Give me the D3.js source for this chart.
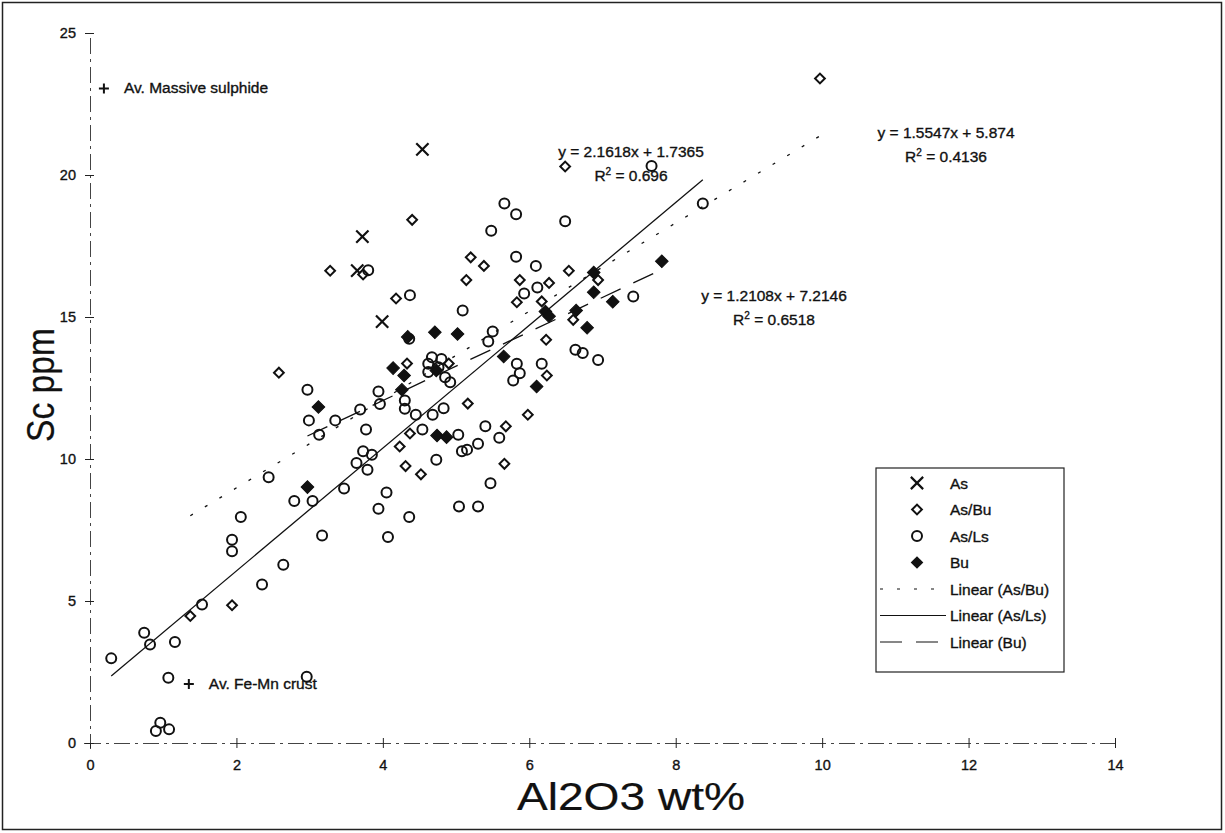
<!DOCTYPE html>
<html><head><meta charset="utf-8">
<script src="https://cdn.jsdelivr.net/npm/d3@7"></script>
<style>
html,body{margin:0;padding:0;background:#fff;}
text{font-family:"Liberation Sans",Arial,sans-serif;fill:#111;stroke:#111;stroke-width:0.35px;}
</style></head>
<body><svg id="chart" width="1225" height="833"></svg>
<script>
// ---- data ----
const seriesNames = ["As", "As/Bu", "As/Ls", "Bu"];
const asPts = [[4.54,20.9],[3.72,17.83],[3.65,16.63],[3.99,14.84]];
const asBuPts = [[9.97,23.4],[6.49,20.3],[4.40,18.42],[3.28,16.63],[3.73,16.5],[4.18,15.65],[5.2,17.1],[5.38,16.8],[5.14,16.3],[5.87,16.3],[5.83,15.52],[6.17,15.55],[4.33,13.36],[2.58,13.04],[4.9,13.36],[5.16,11.95],[4.23,10.44],[4.31,9.75],[4.52,9.46],[4.37,10.9],[6.27,16.2],[6.54,16.63],[6.94,16.3],[6.23,14.2],[6.6,14.9],[6.24,12.94],[5.98,11.56],[5.68,11.15],[5.66,9.83],[1.37,4.47],[1.94,4.85]];
const asLsPts = [[0.29,2.98],[0.74,3.88],[0.82,3.47],[1.16,3.56],[1.53,4.88],[1.07,2.3],[0.96,0.71],[0.9,0.42],[1.08,0.48],[2.96,2.33],[1.94,7.16],[1.94,6.75],[2.06,7.96],[2.35,5.58],[2.64,6.28],[2.79,8.52],[3.04,8.52],[3.17,7.31],
[2.97,12.44],[2.99,11.36],[3.35,11.36],[3.69,11.74],[3.13,10.85],[3.77,11.04],[3.94,12.38],[3.96,11.94],[4.3,12.06],[4.3,11.77],[4.45,11.56],[4.68,11.56],[4.54,11.04],[4.83,11.79],[3.73,10.27],[3.85,10.15],[3.64,9.86],[3.79,9.62],[3.47,8.96],[2.44,9.36],[4.05,8.82],[3.94,8.25],[4.07,7.25],[4.36,7.96],[4.73,9.97],[4.36,14.23],
[4.67,13.58],[4.8,13.52],[4.62,13.35],[4.76,13.23],[4.62,13.06],[4.85,12.88],[4.92,12.7],
[5.03,10.85],[5.4,11.15],[5.3,10.54],[5.59,10.75],[5.08,10.27],[5.15,10.33],[5.47,9.15],[5.04,8.33],[5.3,8.33],
[5.66,19.0],[5.82,18.62],[5.48,18.04],[5.82,17.12],[6.09,16.8],[6.11,16.04],[5.93,15.83],[6.49,18.37],[4.37,15.77],[5.09,15.23],[5.5,14.49],[5.44,14.14],[3.8,16.65],
[7.42,15.72],[6.63,13.85],[6.73,13.73],[6.94,13.49],[5.83,13.35],[6.17,13.35],[5.87,13.02],[5.78,12.76],[7.67,20.32],[8.37,19.0]];
const buPts = [[4.71,14.46],[4.14,13.2],[4.29,12.94],[4.26,12.44],[3.12,11.83],[2.97,9.01],[4.74,10.83],[4.87,10.77],[5.02,14.4],[5.65,13.61],[4.73,13.12],[6.1,12.55],[6.22,15.19],[6.27,15.03],[6.64,15.23],[6.79,14.62],[6.88,15.87],[6.88,16.57],[7.14,15.54],[7.81,16.96],[4.34,14.3]];
const refPts = [[0.19,23.05,"Av. Massive sulphide"],[1.35,2.08,"Av. Fe-Mn crust"]];
// trendlines: [slope, intercept, r2]
const trendAsBu = [1.5547, 5.874, "0.4136"];
const trendAsLs = [2.1618, 1.7365, "0.696"];
const trendBu = [1.2108, 7.2146, "0.6518"];
const xTicks = [0,2,4,6,8,10,12,14];
const yTicks = [0,5,10,15,20,25];
const legendLabels = ["As","As/Bu","As/Ls","Bu","Linear (As/Bu)","Linear (As/Ls)","Linear (Bu)"];

// ---- chart ----
const svg = d3.select("#chart");
const x = d3.scaleLinear().domain([0,14]).range([90,1115]);
const y = d3.scaleLinear().domain([0,25]).range([743,33]);

svg.append("rect").attr("x",2.5).attr("y",2.5).attr("width",1219).attr("height",827)
  .attr("fill","none").attr("stroke","#222").attr("stroke-width",1.5);

// axes
const gx = svg.append("g").attr("transform",`translate(0,${y(0)})`)
  .call(d3.axisBottom(x).tickValues(xTicks).tickSize(6).tickPadding(11));
gx.selectAll(".tick line").attr("y1",-5).attr("y2",5).attr("stroke","#222");
gx.select(".domain").attr("stroke","#444").attr("stroke-dasharray","16,5,3,5");
gx.selectAll("text").style("font-size","14.5px").attr("font-family","Liberation Sans, Arial");

const gy = svg.append("g").attr("transform",`translate(${x(0)},0)`)
  .call(d3.axisLeft(y).tickValues(yTicks).tickSize(6).tickPadding(8));
gy.selectAll(".tick line").attr("x1",4).attr("x2",-5).attr("stroke","#222");
gy.select(".domain").attr("stroke","#444").attr("stroke-dasharray","16,5,3,5");
gy.selectAll("text").style("font-size","14.5px").attr("font-family","Liberation Sans, Arial");

// axis titles
svg.append("text").attr("x",631).attr("y",810).attr("text-anchor","middle")
  .attr("textLength",228).attr("lengthAdjust","spacingAndGlyphs")
  .style("font-size","38px").style("stroke-width","0.2px").text("Al2O3 wt%");
svg.append("text").attr("transform","translate(54,385) rotate(-90)").attr("text-anchor","middle")
  .attr("textLength",114).attr("lengthAdjust","spacingAndGlyphs")
  .style("font-size","38px").style("stroke-width","0.2px").text("Sc ppm");

// trendlines
function trend(t, pts, dash, w){
  const ext = d3.extent(pts, d=>d[0]);
  svg.append("line").attr("x1",x(ext[0])).attr("y1",y(t[0]*ext[0]+t[1]))
    .attr("x2",x(ext[1])).attr("y2",y(t[0]*ext[1]+t[1]))
    .attr("stroke","#111").attr("stroke-width",w).attr("stroke-dasharray",dash);
}
trend(trendAsBu, asBuPts, "3,14", 1.3);
trend(trendAsLs, asLsPts, null, 1.3);
trend(trendBu, buPts, "22,14", 1.3);

// markers
const sqOpen = d3.symbol(d3.symbolSquare, 48);
const sqFill = d3.symbol(d3.symbolSquare, 80);
const times = d3.symbol(d3.symbolTimes, 100);
function drawSeries(pts, kind, g){
  const sel = g.selectAll(null).data(pts).enter();
  if(kind==="As") sel.append("path").attr("d",times).attr("transform",d=>`translate(${x(d[0])},${y(d[1])})`)
      .attr("fill","none").attr("stroke","#111").attr("stroke-width",2.2);
  if(kind==="As/Bu") sel.append("path").attr("d",sqOpen).attr("transform",d=>`translate(${x(d[0])},${y(d[1])}) rotate(45)`)
      .attr("fill","#fff").attr("stroke","#111").attr("stroke-width",2);
  if(kind==="As/Ls") sel.append("circle").attr("cx",d=>x(d[0])).attr("cy",d=>y(d[1])).attr("r",5)
      .attr("fill","none").attr("stroke","#111").attr("stroke-width",2);
  if(kind==="Bu") sel.append("path").attr("d",sqFill).attr("transform",d=>`translate(${x(d[0])},${y(d[1])}) rotate(45)`)
      .attr("fill","#111").attr("stroke","#111").attr("stroke-width",1);
}
const gm = svg.append("g");
drawSeries(asPts,"As",gm);
drawSeries(asBuPts,"As/Bu",gm);
drawSeries(asLsPts,"As/Ls",gm);
drawSeries(buPts,"Bu",gm);

// reference points
refPts.forEach(p=>{
  svg.append("path").attr("d",`M-5,0H5M0,-5V5`).attr("transform",`translate(${x(p[0])},${y(p[1])})`)
    .attr("stroke","#111").attr("stroke-width",2);
  svg.append("text").attr("x",x(p[0])+20).attr("y",y(p[1])+5).style("font-size","15.5px").text(p[2]);
});

// equations
function eq(t, cx, by){
  svg.append("text").attr("x",cx).attr("y",by).attr("text-anchor","middle").style("font-size","15.5px")
    .text(`y = ${t[0]}x + ${t[1]}`);
  const r = svg.append("text").attr("x",cx).attr("y",by+24).attr("text-anchor","middle").style("font-size","15.5px");
  r.append("tspan").text("R");
  r.append("tspan").attr("dy",-6).style("font-size","10px").text("2");
  r.append("tspan").attr("dy",6).text(` = ${t[2]}`);
}
eq(trendAsLs, 631, 157);
eq(trendAsBu, 946, 138);
eq(trendBu, 774, 301);

// legend
const lg = svg.append("g");
lg.append("rect").attr("x",876).attr("y",468).attr("width",188).attr("height",204)
  .attr("fill","#fff").attr("stroke","#222").attr("stroke-width",1.2);
const ly0 = 483, ldy = 26.5, lmx = 917;
legendLabels.forEach((lab,i)=>{
  const yy = ly0 + i*ldy;
  lg.append("text").attr("x",950).attr("y",yy+5.5).style("font-size","15.5px").text(lab);
  if(i<4){
    const t = `translate(${lmx},${yy})`;
    if(i===0) lg.append("path").attr("d",times).attr("transform",t).attr("fill","none").attr("stroke","#111").attr("stroke-width",2.2);
    if(i===1) lg.append("path").attr("d",sqOpen).attr("transform",t+" rotate(45)").attr("fill","#fff").attr("stroke","#111").attr("stroke-width",2);
    if(i===2) lg.append("circle").attr("cx",lmx).attr("cy",yy).attr("r",5).attr("fill","none").attr("stroke","#111").attr("stroke-width",2);
    if(i===3) lg.append("path").attr("d",sqFill).attr("transform",t+" rotate(45)").attr("fill","#111");
  } else {
    const dash = i===4 ? "3,14" : (i===5 ? null : "22,14");
    lg.append("line").attr("x1",880).attr("x2",946).attr("y1",yy).attr("y2",yy)
      .attr("stroke","#111").attr("stroke-width",1.2).attr("stroke-dasharray",dash);
  }
});
</script></body></html>
